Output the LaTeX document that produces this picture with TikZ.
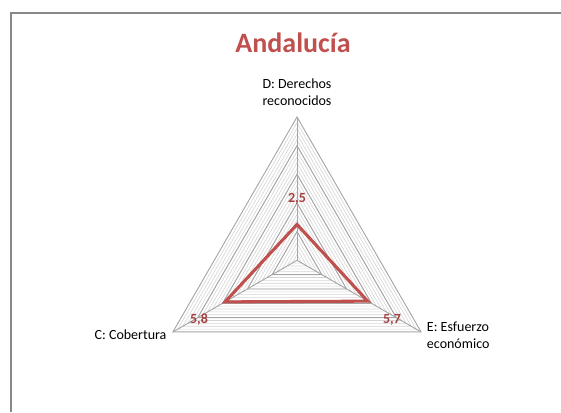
\documentclass[tikz,border=0pt]{standalone}
\usepackage{fontspec}
\setmainfont{Carlito}
\usetikzlibrary{calc}

\definecolor{chartred}{HTML}{C0504D}
\definecolor{valred}{HTML}{A3403D}
\definecolor{majorgrid}{HTML}{A6A6A6}
\definecolor{minorgrid}{HTML}{D4D4D4}
\definecolor{framegray}{HTML}{888888}

\tikzset{
  axislabel/.style={font=\fontsize{10.5}{12.6}\selectfont, align=center, inner sep=0pt},
  vallabel/.style={font=\fontsize{10.5}{12.6}\selectfont\bfseries, text=valred, inner sep=0pt},
  minorline/.style={minorgrid, line width=0.45pt},
  majorline/.style={majorgrid, line width=0.7pt},
  dataline/.style={chartred, line width=2.3pt, line join=miter},
}

\begin{document}
\begin{tikzpicture}[x=0.75pt, y=0.75pt]
    \useasboundingbox (0,0) rectangle (561,-412);

    % Chart frame
    \draw[framegray, line width=1.1pt] (11,-412) -- (11,-13) -- (561,-13);

    % Title
    \node[anchor=base, font=\fontsize{21}{25}\selectfont\bfseries, text=chartred, inner sep=0pt] (title) at (293,-52.7) {Andalucía};

    % Center and axis ends
    \coordinate (O) at (297,-260.3);
    \coordinate (D) at ($(O)+(90:143.3)$);
    \coordinate (E) at ($(O)+(-30:143.3)$);
    \coordinate (C) at ($(O)+(210:143.3)$);

    % Minor grid
    \foreach \i [evaluate=\i as \r using \i*143.3/25] in {1,...,24}
        \draw[minorline] ($(O)+(90:\r)$) -- ($(O)+(-30:\r)$) -- ($(O)+(210:\r)$) -- cycle;

    % Major grid
    \foreach \i [evaluate=\i as \r using \i*143.3/25] in {5,10,...,20}
        \draw[majorline] ($(O)+(90:\r)$) -- ($(O)+(-30:\r)$) -- ($(O)+(210:\r)$) -- cycle;
    \draw[majorline] (D) -- (E) -- (C) -- cycle;

    % Spokes
    \draw[majorline] (O) -- (D);
    \draw[majorline] (O) -- (E);
    \draw[majorline] (O) -- (C);

    % Axis labels
    \node[axislabel, anchor=base] (lblD) at (297,-105.7) {D: Derechos\\reconocidos};
    \node[axislabel, anchor=base east] (lblC) at (166.7,-339.5) {C: Cobertura};
    \node[axislabel, anchor=base west, align=left] (lblE) at (426.7,-348.5) {E: Esfuerzo\\económico};

    % Data (scale 0 to 10)
    \coordinate (pD) at ($(O)+(90:0.25*143.3)$);
    \coordinate (pE) at ($(O)+(-30:0.57*143.3)$);
    \coordinate (pC) at ($(O)+(210:0.58*143.3)$);
    \draw[dataline] (pD) -- (pE) -- (pC) -- cycle;

    % Data labels
    \node[vallabel, anchor=base] (valD) at (297,-202) {2,5};
    \node[vallabel, anchor=base] (valC) at (199,-323) {5,8};
    \node[vallabel, anchor=base] (valE) at (392,-323) {5,7};
\end{tikzpicture}
\end{document}
